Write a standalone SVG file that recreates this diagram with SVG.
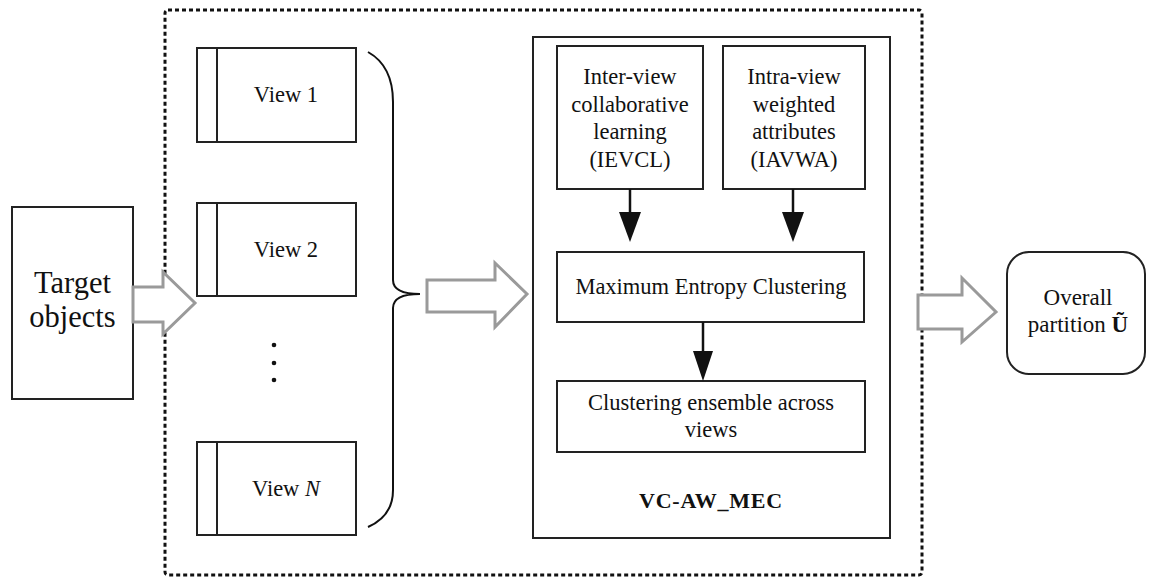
<svg xmlns="http://www.w3.org/2000/svg" width="1150" height="583" viewBox="0 0 1150 583">
<style>
.box{fill:#fff;stroke:#222;stroke-width:2}
.t{font-family:'Liberation Serif','Times New Roman',Times,serif;fill:#111;text-anchor:middle}
.hollow{fill:#fff;stroke:#9a9a9a;stroke-width:3;stroke-linejoin:miter}
.ln{stroke:#111;stroke-width:2.5;fill:none}
.hd{fill:#111}
</style>
<rect x="0" y="0" width="1150" height="583" fill="#fff"/>
<g id="outer-dashed">
<rect x="165" y="10" width="757" height="565" rx="3" fill="none" stroke="#111" stroke-width="3" stroke-dasharray="4,3"/>
</g>
<g id="target">
<rect class="box" x="12" y="207" width="121" height="192"/>
<text class="t" x="72.5" y="293" font-size="30.5">Target</text>
<text class="t" x="72.5" y="327" font-size="30.5">objects</text>
</g>
<g id="view1">
<rect class="box" x="197" y="48" width="159" height="94"/>
<line x1="217" y1="48" x2="217" y2="142" stroke="#222" stroke-width="2"/>
<text class="t" x="286" y="102" font-size="22.5">View 1</text>
</g>
<g id="view2">
<rect class="box" x="197" y="203" width="159" height="93"/>
<line x1="217" y1="203" x2="217" y2="296" stroke="#222" stroke-width="2"/>
<text class="t" x="286" y="257" font-size="22.5">View 2</text>
</g>
<g id="dots">
<circle cx="274" cy="345" r="2.3" fill="#111"/>
<circle cx="274" cy="363" r="2.3" fill="#111"/>
<circle cx="274" cy="380" r="2.3" fill="#111"/>
</g>
<g id="viewN">
<rect class="box" x="197" y="442" width="159" height="93"/>
<line x1="217" y1="442" x2="217" y2="535" stroke="#222" stroke-width="2"/>
<text class="t" x="286" y="496" font-size="22.5">View <tspan font-style="italic">N</tspan></text>
</g>
<g id="brace">
<path d="M368,52 Q393,66 393,102 L393,280 Q393,294 420,294 Q393,294 393,308 L393,490 Q393,516 368,527" fill="none" stroke="#111" stroke-width="2"/>
</g>
<g id="vcaw">
<rect class="box" x="533" y="37" width="357" height="501"/>
<text class="t" x="711" y="508" font-size="22" font-weight="bold" letter-spacing="0.8">VC-AW_MEC</text>
</g>
<g id="ievcl">
<rect class="box" x="557" y="46" width="146" height="143"/>
<text class="t" x="630" y="84" font-size="22.5">Inter-view</text>
<text class="t" x="630" y="112" font-size="22.5">collaborative</text>
<text class="t" x="630" y="139" font-size="22.5">learning</text>
<text class="t" x="630" y="167" font-size="22.5">(IEVCL)</text>
</g>
<g id="iavwa">
<rect class="box" x="723" y="46" width="142" height="143"/>
<text class="t" x="794" y="84" font-size="22.5">Intra-view</text>
<text class="t" x="794" y="112" font-size="22.5">weighted</text>
<text class="t" x="794" y="139" font-size="22.5">attributes</text>
<text class="t" x="794" y="167" font-size="22.5">(IAVWA)</text>
</g>
<g id="mec">
<rect class="box" x="557" y="252" width="307" height="70"/>
<text class="t" x="711" y="294" font-size="22.5">Maximum Entropy Clustering</text>
</g>
<g id="ensemble">
<rect class="box" x="557" y="381" width="308" height="71"/>
<text class="t" x="711" y="410" font-size="22.5">Clustering ensemble across</text>
<text class="t" x="711" y="437" font-size="22.5">views</text>
</g>
<g id="overall">
<rect class="box" x="1007" y="252" width="138" height="122" rx="22"/>
<text class="t" x="1078" y="305" font-size="23">Overall</text>
<text class="t" x="1078" y="332" font-size="23">partition <tspan font-weight="bold">Ũ</tspan></text>
</g>
<g id="connectors">
<polygon class="hollow" points="133,287 163,287 163,272 195,303 163,334 163,322 133,322"/>
<polygon class="hollow" points="427,280 495,280 495,263 527,294 495,327 495,312 427,312"/>
<polygon class="hollow" points="918,295 962,295 962,278 996,312 962,342 962,329 918,329"/>
<line class="ln" x1="630" y1="189" x2="630" y2="214"/>
<polygon class="hd" points="619,212 641,212 630,242"/>
<line class="ln" x1="793" y1="189" x2="793" y2="214"/>
<polygon class="hd" points="782,212 804,212 793,242"/>
<line class="ln" x1="703" y1="322" x2="703" y2="353"/>
<polygon class="hd" points="693,351 713,351 703,381"/>
</g>
</svg>
